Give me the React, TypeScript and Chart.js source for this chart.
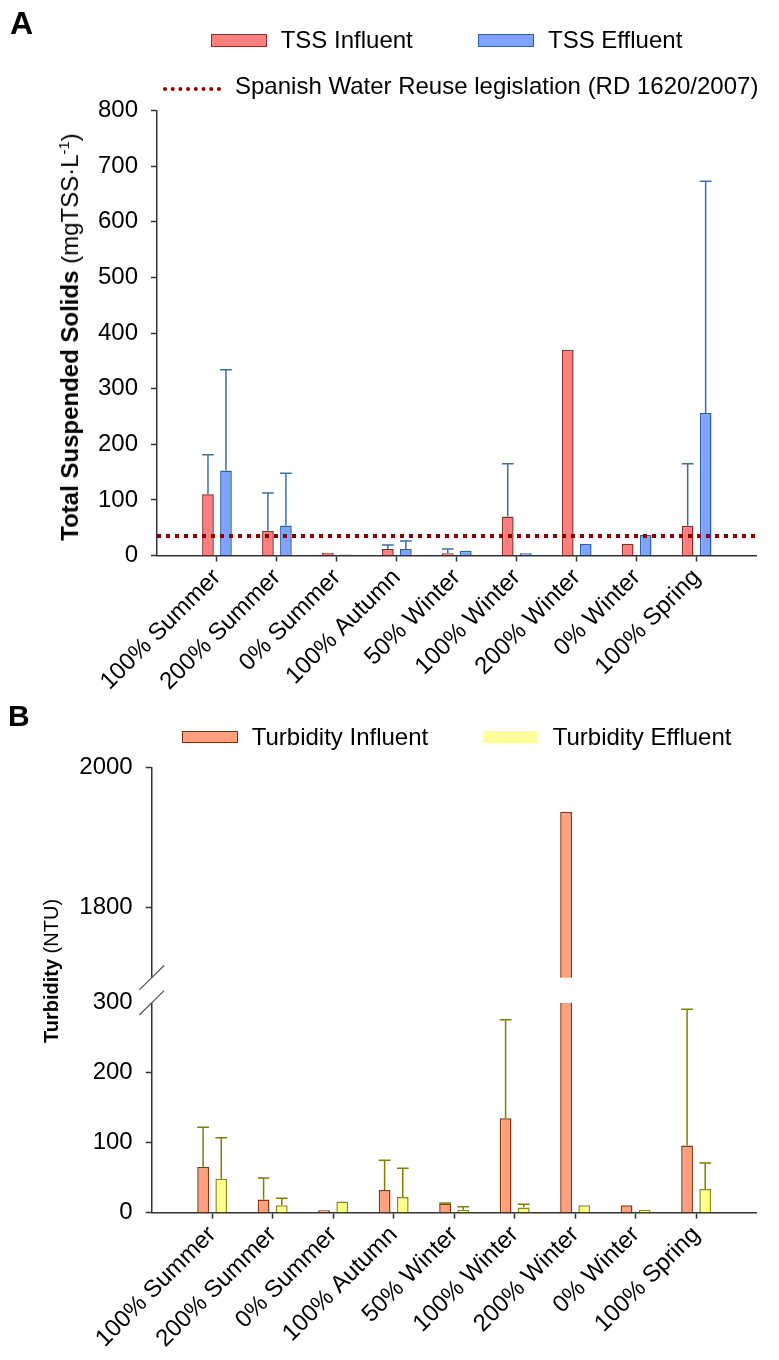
import React, { useEffect, useRef } from 'react';
import { Chart, registerables } from 'chart.js';

Chart.register(...registerables);

// ---------- data ----------
const CATEGORIES = [
  '100% Summer', '200% Summer', '0% Summer', '100% Autumn', '50% Winter',
  '100% Winter', '200% Winter', '0% Winter', '100% Spring',
];

// Panel A: Total Suspended Solids (mgTSS·L-1)
const TSS_INFLUENT = [110, 44.5, 5, 11.7, 4, 70, 370, 20.6, 53.5];
const TSS_INFLUENT_ERR = [71, 68, null, 7.3, 7.7, 95, null, null, 111.5];
const TSS_EFFLUENT = [153, 54, 2, 11.7, 8.6, 4, 20.6, 36.8, 256];
const TSS_EFFLUENT_ERR = [181, 94, null, 14.3, null, null, null, null, 417];
const TSS_LIMIT = 35;
const TSS_MAX = 800;
const TSS_STEP = 100;

// Panel B: Turbidity (NTU)
const TURB_INFLUENT = [65.7, 19, 3.4, 32.4, 13, 135, 1937, 10.5, 96];
const TURB_INFLUENT_ERR = [56.3, 30.5, null, 42.6, 1, 141, null, null, 195];
const TURB_EFFLUENT = [48.6, 10.5, 16, 22.4, 4.3, 7.6, 10.5, 4.3, 34];
const TURB_EFFLUENT_ERR = [58.4, 10, null, 41, 4.3, 4.4, null, null, 37];
const TURB_TICKS = [0, 100, 200, 300, 1800, 2000];
const BREAK_LOW = 300;
const BREAK_HIGH = 1700;
const TURB_MAX = 2000;
const BREAK_GAP = 36;

// ---------- helpers ----------
const FONT = '"Liberation Sans", Arial, Helvetica, sans-serif';
const LABELS = ['', ...CATEGORIES, ''];
const pad = (a: (number | null)[]) => [null, ...a, null];
const toBroken = (v: number) => (v <= BREAK_LOW ? v : BREAK_LOW + BREAK_GAP + (v - BREAK_HIGH));
const fromBroken = (v: number) => (v <= BREAK_LOW ? v : v - BREAK_LOW - BREAK_GAP + BREAK_HIGH);

const errorBarPlugin = {
  id: 'errorBars',
  afterDatasetsDraw(chart: any) {
    const ctx = chart.ctx;
    const yScale = chart.scales.y;
    chart.data.datasets.forEach((ds: any, di: number) => {
      const errs = ds.errors;
      if (!errs) return;
      const meta = chart.getDatasetMeta(di);
      meta.data.forEach((bar: any, i: number) => {
        const e = errs[i];
        const v = ds.data[i];
        if (e == null || v == null) return;
        const top = yScale.getPixelForValue(v + e);
        const { x, y, width } = bar.getProps(['x', 'y', 'width'], true);
        ctx.save();
        ctx.strokeStyle = ds.errorColor;
        ctx.lineWidth = 1.5;
        ctx.beginPath();
        ctx.moveTo(x, y);
        ctx.lineTo(x, top);
        ctx.moveTo(x - width / 2, top);
        ctx.lineTo(x + width / 2, top);
        ctx.stroke();
        ctx.restore();
      });
    });
  },
};

const breakPlugin = {
  id: 'axisBreak',
  afterDraw(chart: any) {
    const { ctx, chartArea } = chart;
    const y = chart.scales.y;
    const yUp = y.getPixelForValue(BREAK_LOW + BREAK_GAP);
    const yLow = y.getPixelForValue(BREAK_LOW);
    ctx.save();
    ctx.fillStyle = '#ffffff';
    ctx.fillRect(chartArea.left - 3, yUp, chartArea.right - chartArea.left + 3, yLow - yUp);
    ctx.strokeStyle = '#555';
    ctx.lineWidth = 1.2;
    [yUp, yLow].forEach((yy) => {
      ctx.beginPath();
      ctx.moveTo(chartArea.left - 12.4, yy + 12.2);
      ctx.lineTo(chartArea.left + 12.4, yy - 12.2);
      ctx.stroke();
    });
    ctx.restore();
  },
};

const AXIS_COLOR = '#333';
const TRANSPARENT = 'rgba(0,0,0,0)';

function xScale(height: number) {
  return {
    offset: false,
    grid: {
      offset: false,
      drawOnChartArea: false,
      tickLength: 6,
      tickWidth: 1.5,
      tickColor: (c: any) => (c.index === 0 || c.index === LABELS.length - 1 ? TRANSPARENT : AXIS_COLOR),
    },
    border: { color: AXIS_COLOR, width: 1.5 },
    ticks: {
      autoSkip: false,
      maxRotation: 45,
      minRotation: 45,
      font: { family: FONT, size: 24 },
      color: '#000',
      padding: 2,
    },
    afterFit: (s: any) => {
      s.height = height;
    },
  };
}

const textStyle: React.CSSProperties = {
  position: 'absolute',
  fontFamily: FONT,
  fontSize: 24,
  lineHeight: '24px',
  whiteSpace: 'nowrap',
  color: '#000',
};

export default function App() {
  const refA = useRef<HTMLCanvasElement>(null);
  const refB = useRef<HTMLCanvasElement>(null);

  useEffect(() => {
    const chartA = new Chart(refA.current as HTMLCanvasElement, {
      type: 'bar',
      data: {
        labels: LABELS,
        datasets: [
          {
            type: 'line',
            label: 'Spanish Water Reuse legislation (RD 1620/2007)',
            data: LABELS.map(() => TSS_LIMIT),
            borderColor: '#8b0000',
            borderWidth: 4,
            borderDash: [4, 5],
            pointRadius: 0,
            fill: false,
            order: 0,
          } as any,
          {
            label: 'TSS Influent',
            data: pad(TSS_INFLUENT),
            backgroundColor: '#ff7f7f',
            borderColor: '#8b2c2c',
            borderWidth: 1.5,
            errors: pad(TSS_INFLUENT_ERR),
            errorColor: '#3c6ea8',
            order: 1,
          } as any,
          {
            label: 'TSS Effluent',
            data: pad(TSS_EFFLUENT),
            backgroundColor: '#7fa3ff',
            borderColor: '#2d5fa6',
            borderWidth: 1.5,
            errors: pad(TSS_EFFLUENT_ERR),
            errorColor: '#3c6ea8',
            order: 2,
          } as any,
        ],
      },
      options: {
        responsive: false,
        animation: false,
        layout: { padding: { top: 110.5, right: 1, left: 0, bottom: 0 } },
        plugins: { legend: { display: false }, tooltip: { enabled: false } },
        datasets: { bar: { categoryPercentage: 0.6, barPercentage: 0.65 } },
        scales: {
          x: xScale(144.5) as any,
          y: {
            min: 0,
            max: TSS_MAX,
            ticks: {
              stepSize: TSS_STEP,
              font: { family: FONT, size: 24 },
              color: '#000',
              padding: 13,
            },
            grid: { drawOnChartArea: false, tickLength: 6, tickWidth: 1.5, tickColor: AXIS_COLOR },
            border: { color: AXIS_COLOR, width: 1.5 },
            afterFit: (s: any) => {
              s.width = 157;
            },
          } as any,
        },
      },
      plugins: [errorBarPlugin],
    });

    const chartB = new Chart(refB.current as HTMLCanvasElement, {
      type: 'bar',
      data: {
        labels: LABELS,
        datasets: [
          {
            label: 'Turbidity Influent',
            data: pad(TURB_INFLUENT).map((v) => (v == null ? null : toBroken(v))),
            backgroundColor: '#ffa07f',
            borderColor: '#8a3512',
            borderWidth: 1.5,
            errors: pad(TURB_INFLUENT_ERR),
            errorColor: '#7f7f00',
          } as any,
          {
            label: 'Turbidity Effluent',
            data: pad(TURB_EFFLUENT).map((v) => (v == null ? null : toBroken(v))),
            backgroundColor: '#ffff8c',
            borderColor: '#8a8a1a',
            borderWidth: 1.5,
            errors: pad(TURB_EFFLUENT_ERR),
            errorColor: '#7f7f00',
          } as any,
        ],
      },
      options: {
        responsive: false,
        animation: false,
        layout: { padding: { top: 67.8, right: 7.3, left: 0, bottom: 0 } },
        plugins: { legend: { display: false }, tooltip: { enabled: false } },
        datasets: { bar: { categoryPercentage: 0.6, barPercentage: 0.65 } },
        scales: {
          x: xScale(147.3) as any,
          y: {
            min: 0,
            max: toBroken(TURB_MAX),
            afterBuildTicks: (s: any) => {
              s.ticks = TURB_TICKS.map((v) => ({ value: toBroken(v) }));
            },
            ticks: {
              font: { family: FONT, size: 24 },
              color: '#000',
              padding: 13,
              callback: (value: any) => String(Math.round(fromBroken(Number(value)))),
            },
            grid: {
              drawOnChartArea: false,
              tickLength: 6,
              tickWidth: 1.5,
              tickColor: (c: any) => (c.tick && c.tick.value === BREAK_LOW ? TRANSPARENT : AXIS_COLOR),
            },
            border: { color: AXIS_COLOR, width: 1.5 },
            afterFit: (s: any) => {
              s.width = 151.7;
            },
          } as any,
        },
      },
      plugins: [errorBarPlugin, breakPlugin],
    });

    return () => {
      chartA.destroy();
      chartB.destroy();
    };
  }, []);

  return (
    <div style={{ position: 'absolute', left: 0, top: 0, width: 779, height: 1360, background: '#fff' }}>
      <canvas ref={refA} width={779} height={700} style={{ position: 'absolute', left: 0, top: 0 }} />
      <canvas ref={refB} width={779} height={660} style={{ position: 'absolute', left: 0, top: 700 }} />

      {/* Panel letters */}
      <div style={{ ...textStyle, left: 10, top: 7, fontSize: 32, lineHeight: '32px', fontWeight: 'bold' }}>A</div>
      <div style={{ ...textStyle, left: 8, top: 701, fontSize: 30, lineHeight: '30px', fontWeight: 'bold' }}>B</div>

      {/* Legend A */}
      <div style={{ position: 'absolute', left: 211, top: 34.3, width: 56, height: 12.4, boxSizing: 'border-box', background: '#ff7f7f', border: '1.5px solid #8b2c2c' }} />
      <div style={{ ...textStyle, left: 280.7, top: 28 }}>TSS Influent</div>
      <div style={{ position: 'absolute', left: 478.3, top: 33.5, width: 56, height: 13, boxSizing: 'border-box', background: '#7fa3ff', border: '1.5px solid #2d5fa6' }} />
      <div style={{ ...textStyle, left: 548, top: 28 }}>TSS Effluent</div>
      <div style={{ position: 'absolute', left: 163, top: 87, width: 58, height: 0, borderTop: '4px dotted #8b0000' }} />
      <div style={{ ...textStyle, left: 235, top: 74 }}>Spanish Water Reuse legislation (RD 1620/2007)</div>

      {/* Axis title A */}
      <div
        style={{
          ...textStyle,
          left: 70,
          top: 336.5,
          transform: 'translate(-50%, -50%) rotate(-90deg)',
        }}
      >
        <b>Total Suspended Solids</b> (mgTSS·L
        <sup style={{ fontSize: 15, lineHeight: '0', verticalAlign: '9px' }}>-1</sup>)
      </div>

      {/* Legend B */}
      <div style={{ position: 'absolute', left: 182.3, top: 730.7, width: 55.4, height: 12.6, boxSizing: 'border-box', background: '#ffa07f', border: '1.5px solid #7a3010' }} />
      <div style={{ ...textStyle, left: 251.7, top: 724.7 }}>Turbidity Influent</div>
      <div style={{ position: 'absolute', left: 483.3, top: 731, width: 54.4, height: 12.3, background: '#ffff99' }} />
      <div style={{ ...textStyle, left: 552.7, top: 724.7 }}>Turbidity Effluent</div>

      {/* Axis title B */}
      <div
        style={{
          ...textStyle,
          fontSize: 20,
          lineHeight: '20px',
          left: 51,
          top: 971,
          transform: 'translate(-50%, -50%) rotate(-90deg)',
        }}
      >
        <b>Turbidity</b> (NTU)
      </div>
    </div>
  );
}
